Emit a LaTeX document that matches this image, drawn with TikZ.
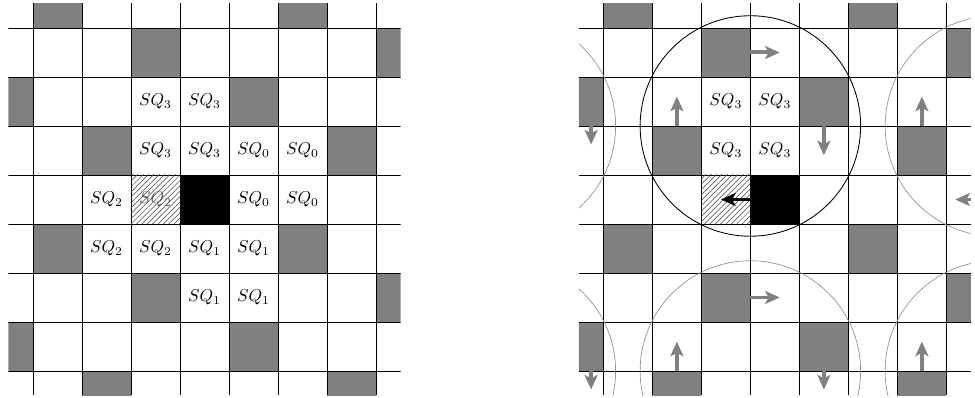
\documentclass[tikz,border=0pt]{standalone}
\usetikzlibrary{arrows.meta, patterns.meta}

\begin{document}
\begin{tikzpicture}[
  graycell/.style={fill=gray},
  goalcell/.style={fill=black},
  hatchcell/.style={pattern={Lines[angle=45, distance=2.2pt, line width=0.3pt]},
                    pattern color=black!75},
  gridline/.style={line width=0.5pt},
  sqlabel/.style={inner sep=0pt},
  move/.style={draw=gray, line width=2.3pt,
               -{Stealth[length=8.5pt, width=7.5pt, inset=2pt]}},
  reach/.style={draw, line width=0.5pt},
  farreach/.style={draw=gray!85, line width=0.4pt}
]
\path[use as bounding box] (-0.673,-0.551) rectangle (19.224,7.571);
% Boards
\foreach \ox in {0, 11.64} {
  \begin{scope}[xshift=\ox cm]
    \clip (-0.5,-0.5) rectangle (7.5,7.5);
    \foreach \x/\y in {0/7, 5/7, 2/6, 7/6, -1/5, 4/5, 1/4, 6/4,
                       0/2, 5/2, 2/1, 7/1, -1/0, 4/0, 1/-1, 6/-1}
      \fill[graycell] (\x,\y) rectangle ++(1,1);
    \fill[goalcell] (3,3) rectangle ++(1,1);
    \foreach \i in {0,...,7} {
      \draw[gridline] (\i,-0.5) -- (\i,7.5);
      \draw[gridline] (-0.5,\i) -- (7.5,\i);
    }
  \end{scope}
}
% Left board: squares
\node[sqlabel, text=black!60] (sq2b) at (2.5,3.5) {$SQ_2$};
\fill[hatchcell] (2,3) rectangle ++(1,1);
\node[sqlabel] (sq3a) at (2.5,5.5) {$SQ_3$};
\node[sqlabel] (sq3b) at (3.5,5.5) {$SQ_3$};
\node[sqlabel] (sq3c) at (2.5,4.5) {$SQ_3$};
\node[sqlabel] (sq3d) at (3.5,4.5) {$SQ_3$};
\node[sqlabel] (sq0a) at (4.5,4.5) {$SQ_0$};
\node[sqlabel] (sq0b) at (5.5,4.5) {$SQ_0$};
\node[sqlabel] (sq0c) at (4.5,3.5) {$SQ_0$};
\node[sqlabel] (sq0d) at (5.5,3.5) {$SQ_0$};
\node[sqlabel] (sq2a) at (1.5,3.5) {$SQ_2$};
\node[sqlabel] (sq2c) at (1.5,2.5) {$SQ_2$};
\node[sqlabel] (sq2d) at (2.5,2.5) {$SQ_2$};
\node[sqlabel] (sq1a) at (3.5,2.5) {$SQ_1$};
\node[sqlabel] (sq1b) at (4.5,2.5) {$SQ_1$};
\node[sqlabel] (sq1c) at (3.5,1.5) {$SQ_1$};
\node[sqlabel] (sq1d) at (4.5,1.5) {$SQ_1$};
% Right board: moves and reach
\begin{scope}[xshift=11.64cm]
  \clip (-0.5,-0.5) rectangle (7.5,7.5);
  \fill[hatchcell] (2,3) rectangle ++(1,1);
  \node[sqlabel] (rsq3a) at (2.5,5.5) {$SQ_3$};
  \node[sqlabel] (rsq3b) at (3.5,5.5) {$SQ_3$};
  \node[sqlabel] (rsq3c) at (2.5,4.5) {$SQ_3$};
  \node[sqlabel] (rsq3d) at (3.5,4.5) {$SQ_3$};
  \draw[move, draw=black] (3,3.5) -- (2.4,3.5);
  \draw[move] (3,6.5) -- (3.6,6.5);
  \draw[move] (1.5,5) -- (1.5,5.6);
  \draw[move] (4.5,5) -- (4.5,4.4);
  \draw[move] (-0.25,5) -- (-0.25,4.62);
  \draw[move] (6.5,5) -- (6.5,5.6);
  \draw[move] (7.5,3.5) -- (7.18,3.5);
  \draw[move] (3,1.5) -- (3.6,1.5);
  \draw[move] (1.5,0) -- (1.5,0.6);
  \draw[move] (4.5,0) -- (4.5,-0.38);
  \draw[move] (-0.25,0) -- (-0.25,-0.38);
  \draw[move] (6.5,0) -- (6.5,0.6);
  \draw[reach] (3,5) circle (2.25);
  \foreach \cx/\cy in {-2/5, 8/5, -2/0, 3/0, 8/0}
    \draw[farreach] (\cx,\cy) circle (2.25);
\end{scope}
\end{tikzpicture}
\end{document}
